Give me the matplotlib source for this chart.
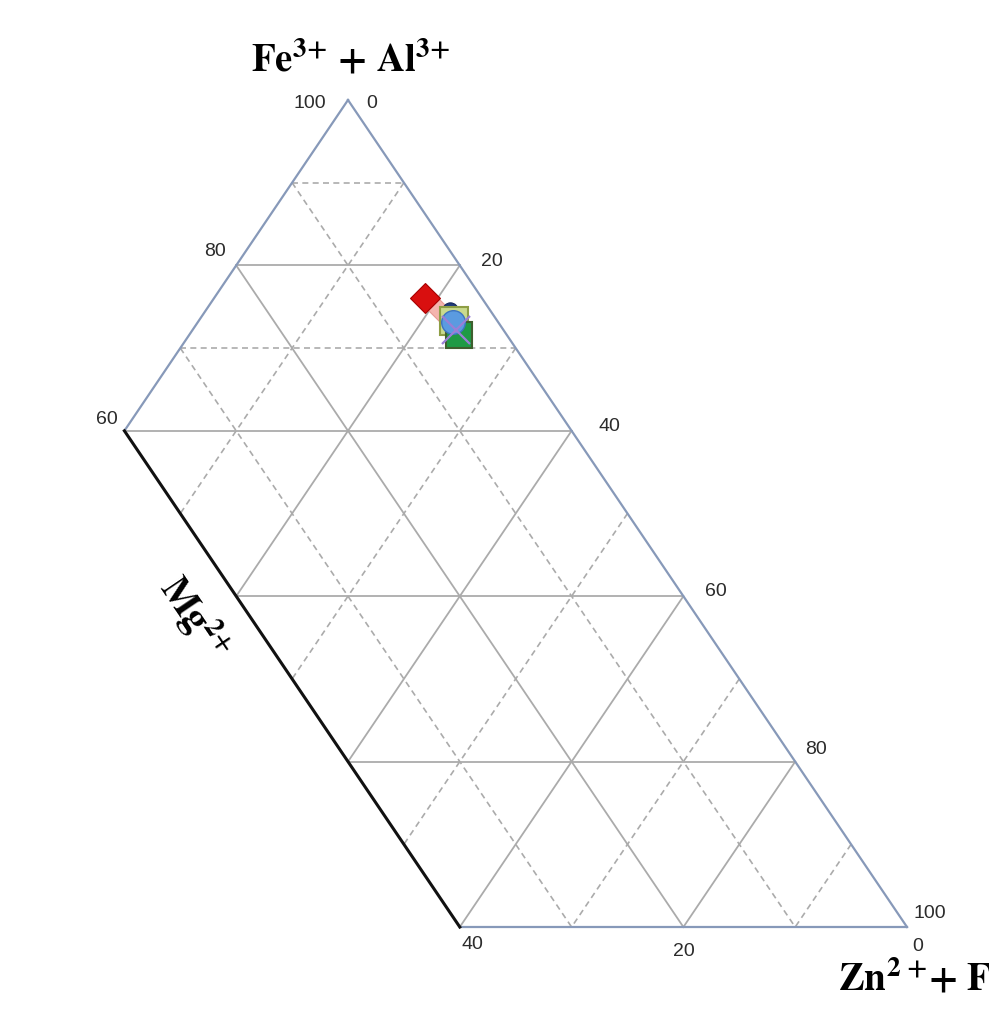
import matplotlib
matplotlib.use("Agg")
import matplotlib.pyplot as plt
import numpy as np

# sample compositions in percent (Fe3+ + Al3+, Zn2+ + Fe2+, Mg2+)
fe = [74.6, 74.6, 76.1, 73.3, 71.6, 73.2, 72.2]
zn = [20.8, 21.8, 18.8, 22.8, 24.1, 22.8, 23.6]
mg = [4.6, 3.6, 5.1, 3.9, 4.3, 4.0, 4.2]

# marker look for each sample, same order as above
styles = [
    dict(marker="D", ms=11, mfc="#f4b4ae", mec="#e79a94", mew=0.8),
    dict(marker="o", ms=11, mfc="#1f3a7a", mec="#15285a", mew=0.8),
    dict(marker="D", ms=15, mfc="#d90f0f", mec="#a80000", mew=0.8),
    dict(marker="s", ms=20, mfc="#c9da8e", mec="#8e9e45", mew=1.5),
    dict(marker="s", ms=19, mfc="#1f9a45", mec="#3f5f2e", mew=1.5),
    dict(marker="o", ms=17, mfc="#5b9be0", mec="#3d74c0", mew=1.0),
    dict(marker="x", ms=20, mfc="none", mec="#9a7fd6", mew=1.6),
]

# grid levels
MG_MAX = 40
fe_solid = [80, 60, 40, 20]
fe_dashed = [90, 70]
mg_solid = [20]
mg_dashed = [10, 30]
zn_solid = [20, 40, 60, 80]
zn_dashed = [10, 30, 50, 70, 90]

# tick labels along the three borders
fe_ticks = [100, 80, 60]
zn_ticks = [0, 20, 40, 60, 80, 100]
mg_ticks = [40, 20, 0]

GRID = "#ababab"
EDGE = "#8799b9"
NUM = "#2b2b2b"


def tern(f, z, m):
    tot = f + z + m
    return 100.0 * (z + f / 2.0) / tot, 100.0 * f / tot


def seg(p, q):
    x0, y0 = tern(*p)
    x1, y1 = tern(*q)
    return [x0, x1], [y0, y1]


def fe_line(c):
    ml = min(MG_MAX, 100 - c)
    return seg((c, 100 - c - ml, ml), (c, 100 - c, 0))


def mg_line(c):
    return seg((100 - c, 0, c), (0, 100 - c, c))


def zn_line(c):
    ml = min(MG_MAX, 100 - c)
    return seg((100 - c, c, 0), (100 - c - ml, c, ml))


fig = plt.figure(figsize=(9.89, 10.17), dpi=100)
ax = fig.add_axes([0, 0, 1, 1])
ax.set_xlim(18.873, 107.335)
ax.set_ylim(-10.88, 112.09)
ax.axis("off")

dash = (0, (3.6, 2.6))
for c in fe_solid:
    ax.plot(*fe_line(c), color=GRID, lw=1.3, zorder=1)
for c in mg_solid:
    ax.plot(*mg_line(c), color=GRID, lw=1.3, zorder=1)
for c in zn_solid:
    ax.plot(*zn_line(c), color=GRID, lw=1.3, zorder=1)
for c in fe_dashed:
    ax.plot(*fe_line(c), color=GRID, lw=1.2, ls=dash, zorder=1)
for c in mg_dashed:
    ax.plot(*mg_line(c), color=GRID, lw=1.2, ls=dash, zorder=1)
for c in zn_dashed:
    ax.plot(*zn_line(c), color=GRID, lw=1.2, ls=dash, zorder=1)

# border of the truncated triangle
apex = (100, 0, 0)
left = (100 - MG_MAX, 0, MG_MAX)
bleft = (0, 100 - MG_MAX, MG_MAX)
right = (0, 100, 0)
ax.plot(*seg(apex, left), color=EDGE, lw=1.6, zorder=2)
ax.plot(*seg(bleft, right), color=EDGE, lw=1.6, zorder=2)
ax.plot(*seg(right, apex), color=EDGE, lw=1.6, zorder=2)
ax.plot(*seg(left, bleft), color="#111111", lw=2.2, zorder=2)

# samples
for f, z, m, st in zip(fe, zn, mg, styles):
    x, y = tern(f, z, m)
    ax.plot([x], [y], ls="none", zorder=5, **st)

# numbers on the borders
num = dict(fontsize=14, color=NUM, family="Liberation Sans",
           ha="center", va="center", textcoords="offset pixels")
fe_off = [(-38, -4), (-21, 14), (-18, 11)]
for v, off in zip(fe_ticks, fe_off):
    ax.annotate(str(v), tern(v, 0, 100 - v), xytext=off, **num)
zn_off = [(24, -4), (32, 4), (38, 4), (32, 5), (21, 12), (23, 14)]
for v, off in zip(zn_ticks, zn_off):
    ax.annotate(str(v), tern(100 - v, v, 0), xytext=off, **num)
mg_off = [(13, -17), (0, -24), (11, -19)]
for v, off in zip(mg_ticks, mg_off):
    ax.annotate(str(v), tern(0, 100 - v, v), xytext=off, **num)

# axis titles
plt.rcParams["mathtext.fontset"] = "stix"
ttl = dict(fontsize=28, color="black", textcoords="offset pixels")
ax.annotate(r"$\mathbf{Fe}^{\mathbf{3{+}}}\ \mathbf{{+}}\ \mathbf{Al}^{\mathbf{3{+}}}$",
            tern(*apex), xytext=(2, 40), ha="center", va="center", **ttl)

p0 = ax.transData.transform(tern(*left))
p1 = ax.transData.transform(tern(*bleft))
ang = np.degrees(np.arctan2(p1[1] - p0[1], p1[0] - p0[0]))
mid = tern(50 - MG_MAX / 2, 50 - MG_MAX / 2, MG_MAX)
ax.annotate(r"$\mathbf{Mg}^{\mathbf{2{+}}}$", mid, xytext=(-98, 61), rotation=ang,
            rotation_mode="anchor", ha="center", va="center", **ttl)

ax.annotate(r"$\mathbf{Zn}^{\mathbf{2}\ \mathbf{{+}}}\mathbf{{+}}\ \mathbf{Fe}^{\mathbf{2{+}}}$",
            tern(*right), xytext=(-69, -63), ha="left", va="baseline", **ttl)

fig.savefig("out.png", dpi=100)
